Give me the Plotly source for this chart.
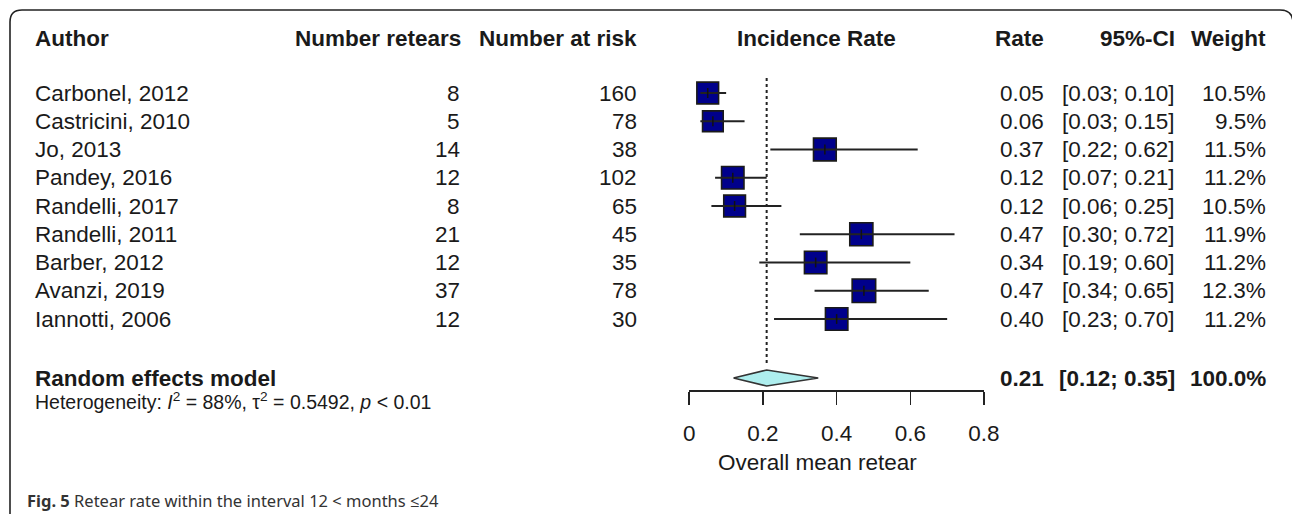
import plotly.graph_objects as go

# ---------------- data ----------------
authors = ["Carbonel, 2012", "Castricini, 2010", "Jo, 2013", "Pandey, 2016",
           "Randelli, 2017", "Randelli, 2011", "Barber, 2012", "Avanzi, 2019",
           "Iannotti, 2006"]
retears = [8, 5, 14, 12, 8, 21, 12, 37, 12]
at_risk = [160, 78, 38, 102, 65, 45, 35, 78, 30]
rate = [0.050, 0.064, 0.368, 0.118, 0.123, 0.467, 0.343, 0.474, 0.400]
ci_low = [0.03, 0.03, 0.22, 0.07, 0.06, 0.30, 0.19, 0.34, 0.23]
ci_high = [0.10, 0.15, 0.62, 0.21, 0.25, 0.72, 0.60, 0.65, 0.70]
weight = [10.5, 9.5, 11.5, 11.2, 10.5, 11.9, 11.2, 12.3, 11.2]

re_label = "Random effects model"
re_rate = 0.21
re_low = 0.12
re_high = 0.35
re_weight = 100.0
het_text = "Heterogeneity: <i>I</i><sup>2</sup> = 88%, τ<sup>2</sup> = 0.5492, <i>p</i> &lt; 0.01"

headers = ["Author", "Number retears", "Number at risk", "Incidence Rate", "Rate", "95%-CI", "Weight"]
tick_vals = [0, 0.2, 0.4, 0.6, 0.8]
tick_text = ["0", "0.2", "0.4", "0.6", "0.8"]
x_title = "Overall mean retear"
caption = "<b>Fig. 5</b> Retear rate within the interval 12 &lt; months ≤24"

# ---------------- layout helpers ----------------
W, H = 1292, 514
ROW0, ROWH = 93.0, 28.25           # pixel y of first study row, row spacing


def px2row(py):
    return (py - ROW0) / ROWH


def px(xp):
    return xp / W


FONT = "Liberation Sans, Arial, sans-serif"
TXT = "#1a1a1a"
FS = 22.5

rows = list(range(len(authors)))
re_row = px2row(378)
het_row = px2row(401)
head_row = px2row(38)

fig = go.Figure()

# reference (random-effects) dotted line
fig.add_trace(go.Scatter(x=[re_rate, re_rate], y=[px2row(78), px2row(364)], mode="lines",
                         line=dict(color="#222", width=2, dash="dot"), hoverinfo="skip"))

# squares (area ~ weight)
sizes = [23.5 * (w / max(weight)) ** 0.5 for w in weight]
fig.add_trace(go.Scatter(x=rate, y=rows, mode="markers",
                         marker=dict(symbol="square", size=sizes, color="#00008B", opacity=1,
                                     line=dict(color="#1a1a1a", width=1.6)),
                         hoverinfo="skip"))

# CI lines
for i in rows:
    fig.add_trace(go.Scatter(x=[ci_low[i], ci_high[i]], y=[i, i], mode="lines",
                             line=dict(color="#222", width=1.8), hoverinfo="skip"))
# small centre ticks
fig.add_trace(go.Scatter(x=rate, y=rows, mode="markers",
                         marker=dict(symbol="line-ns", size=7, opacity=1,
                                     line=dict(color="#111", width=1.5)),
                         hoverinfo="skip"))

# diamond
dh = 8.0 / ROWH
fig.add_trace(go.Scatter(x=[re_low, re_rate, re_high, re_rate, re_low],
                         y=[re_row, re_row - dh, re_row, re_row + dh, re_row],
                         mode="lines", fill="toself", fillcolor="#AEEEEE",
                         line=dict(color="#333", width=1.6), hoverinfo="skip"))

ann = []


def txt(x, y, s, anchor="left", bold=False, size=FS, color=TXT, yref="y", font=FONT):
    ann.append(dict(x=px(x), y=y, xref="paper", yref=yref, text=(f"<b>{s}</b>" if bold else s),
                    showarrow=False, xanchor=anchor, yanchor="middle",
                    font=dict(family=font, size=size, color=color)))


# headers
txt(33, head_row, headers[0], "left", True)
txt(463, head_row, headers[1], "right", True)
txt(639, head_row, headers[2], "right", True)
txt(816, head_row, headers[3], "center", True)
txt(1046, head_row, headers[4], "right", True)
txt(1177, head_row, headers[5], "right", True)
txt(1268, head_row, headers[6], "right", True)

# study rows
for i in rows:
    txt(33, i, authors[i])
    txt(462, i, str(retears[i]), "right")
    txt(639, i, str(at_risk[i]), "right")
    txt(1046, i, f"{rate[i]:.2f}", "right")
    txt(1177, i, f"[{ci_low[i]:.2f}; {ci_high[i]:.2f}]", "right")
    txt(1268, i, f"{weight[i]:.1f}%", "right")

# summary row
txt(33, re_row, re_label, "left", True)
txt(1046, re_row, f"{re_rate:.2f}", "right", True)
txt(1177, re_row, f"[{re_low:.2f}; {re_high:.2f}]", "right", True)
txt(1268, re_row, f"{re_weight:.1f}%", "right", True)
txt(33, het_row, het_text, "left", size=19.5)

# axis title
txt(817, px2row(462), x_title, "center")

# caption
txt(25, px2row(500), caption, "left", size=16.5, color="#333",
    font="Noto Sans, Open Sans, sans-serif")

# border (rounded top corners)
def P(xp, yp):
    return f"{xp / W:.5f},{1 - yp / H:.5f}"


border = (f"M {P(10, 514)} L {P(10, 22)} Q {P(10, 10)} {P(22, 10)} "
          f"L {P(1280, 10)} Q {P(1293, 10)} {P(1293, 23)} L {P(1293, 514)}")

fig.update_layout(
    template="none",
    width=W, height=H, autosize=False,
    margin=dict(l=0, r=0, t=0, b=0, pad=0, autoexpand=False),
    paper_bgcolor="white", plot_bgcolor="white", showlegend=False,
    annotations=ann,
    shapes=[dict(type="path", path=border, xref="paper", yref="paper",
                 line=dict(color="#222", width=1.6))],
    xaxis=dict(domain=[689.3 / W, 984 / W], range=[0, 0.8], anchor="free", automargin=False,
               position=1 - 390 / H, showline=True, linecolor="#222", linewidth=1.6,
               ticks="outside", ticklen=13, tickwidth=1.6, tickcolor="#222",
               tickvals=tick_vals, ticktext=tick_text, ticklabelstandoff=9,
               tickfont=dict(family=FONT, size=22.5, color=TXT),
               showgrid=False, zeroline=False, fixedrange=True),
    yaxis=dict(domain=[0, 1], range=[px2row(H), px2row(0)], visible=False, automargin=False,
               showgrid=False, zeroline=False, fixedrange=True),
)

fig.write_html("out.html",
               config={"responsive": False, "displayModeBar": False, "staticPlot": True},
               post_script="document.body.style.margin='0';"
                           "document.body.style.overflow='hidden';"
                           "document.documentElement.style.overflow='hidden';")
